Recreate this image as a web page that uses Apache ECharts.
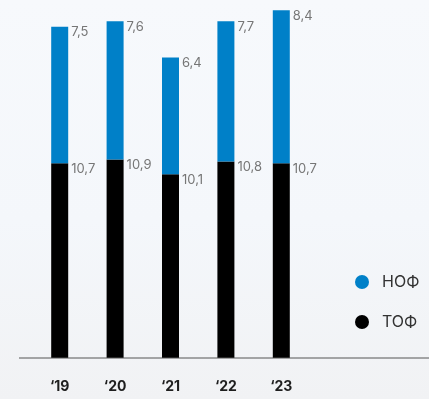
<!DOCTYPE html>
<html>
<head>
<meta charset="utf-8">
<script src="https://cdn.jsdelivr.net/npm/echarts@6/dist/echarts.min.js"></script>
<style>
  html, body { margin: 0; padding: 0; }
  #chart { width: 429px; height: 399px; background: linear-gradient(180deg, #f7f9fc 0%, #f4f7fb 55%, #f1f2f4 100%); }
</style>
</head>
<body>
<div id="chart"></div>
<script>
// Years on the category axis
var years = ['‘19', '‘20', '‘21', '‘22', '‘23'];
// Bottom segment (ТОФ)
var tof = [10.7, 10.9, 10.1, 10.8, 10.7];
// Top segment (НОФ)
var nof = [7.5, 7.6, 6.4, 7.7, 8.4];
var seriesNames = ['ТОФ', 'НОФ'];
var legendOrder = ['НОФ', 'ТОФ'];

var FONT = 'Inter, "Noto Sans", sans-serif';
var gridLeft = 32, gridRight = 120, gridTop = 3, gridBottom = 41;

var chart = echarts.init(document.getElementById('chart'), null, { renderer: 'canvas' });

function fmt(v) { return String(v).replace('.', ','); }

var valueLabel = {
  show: true,
  position: [20, -1],
  verticalAlign: 'top',
  align: 'left',
  fontFamily: FONT,
  fontSize: 13,
  color: '#767676',
  formatter: function (p) { return fmt(p.value); }
};

chart.setOption({
  backgroundColor: 'transparent',
  animation: false,
  grid: { left: gridLeft, right: gridRight, top: gridTop, bottom: gridBottom },
  legend: {
    data: legendOrder,
    orient: 'vertical',
    left: 350,
    top: 269,
    icon: 'circle',
    itemWidth: 14,
    itemHeight: 14,
    itemGap: 24,
    textStyle: { fontFamily: FONT, fontSize: 16, color: '#333', padding: [0, 0, 0, 8] }
  },
  xAxis: {
    type: 'category',
    data: years,
    axisLine: { show: false },
    axisTick: { show: false },
    axisLabel: {
      margin: 22,
      fontFamily: FONT,
      fontSize: 14,
      fontWeight: 'bold',
      color: '#1e1e1e'
    }
  },
  yAxis: {
    type: 'value',
    min: 0,
    max: 19.5,
    show: false,
    splitLine: { show: false }
  },
  graphic: [{
    type: 'line',
    shape: { x1: 19, y1: 0, x2: 429, y2: 0 },
    y: 399 - gridBottom,
    style: { stroke: '#555', lineWidth: 1 },
    z: 10
  }],
  series: [
    {
      name: seriesNames[0],
      type: 'bar',
      stack: 'total',
      barWidth: 17,
      data: tof,
      itemStyle: { color: '#000000' },
      label: valueLabel
    },
    {
      name: seriesNames[1],
      type: 'bar',
      stack: 'total',
      barWidth: 17,
      data: nof,
      itemStyle: { color: '#0080c8' },
      label: valueLabel
    }
  ]
});
</script>
</body>
</html>
